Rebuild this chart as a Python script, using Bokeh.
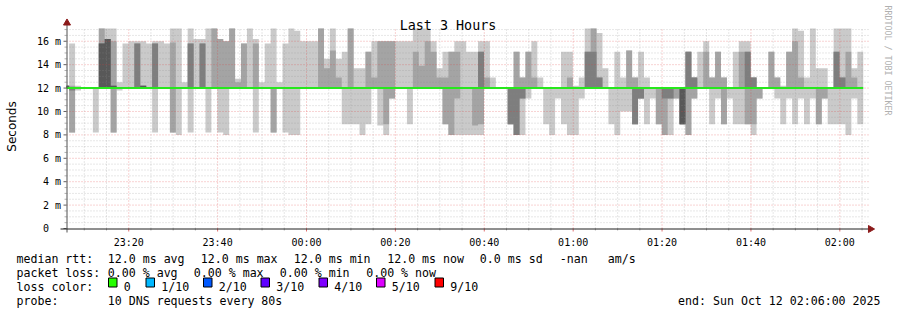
import math
import pandas as pd
from bokeh.plotting import figure
from bokeh.models import ColumnDataSource, Range1d
from bokeh.core.properties import value
from bokeh.embed import file_html
from bokeh.resources import INLINE

# ---------------- data (ms), one value per 80 s step, sorted ping ranks ----------------
first_step_time = "2025-10-11 23:05:16"
step_seconds = 80
view_start = "2025-10-11 23:06:00"
view_end = "2025-10-12 02:06:00"

ping_max = [12.2,
    15.8, 12.2, 12.0, 12.0, 12.0, 17.1, 17.1, 17.1, 12.5, 15.8,
    16.0, 16.0, 16.0, 15.8, 16.0, 16.0, 15.8, 17.1, 17.1, 12.5,
    17.1, 16.2, 16.2, 17.1, 17.1, 16.2, 16.0, 17.1, 12.8, 15.8,
    17.1, 16.2, 12.5, 15.8, 17.1, 12.5, 15.8, 17.1, 16.9, 16.0,
    16.0, 16.0, 17.1, 14.5, 17.1, 14.5, 15.1, 17.1, 13.7, 13.7,
    15.1, 16.0, 16.0, 16.0, 16.0, 16.0, 16.0, 16.0, 17.1, 17.1,
    17.1, 16.0, 13.7, 15.1, 15.1, 16.0, 16.0, 15.1, 15.1, 16.0,
    16.0, 12.9, 12.0, 12.0, 12.0, 15.1, 12.9, 15.1, 16.0, 12.9,
    12.0, 12.0, 12.0, 15.1, 15.1, 12.2, 12.9, 17.1, 17.1, 16.7,
    13.7, 12.0, 15.1, 12.9, 15.2, 12.9, 15.1, 12.9, 12.0, 12.0,
    12.0, 12.0, 12.0, 12.0, 15.1, 12.9, 15.1, 16.0, 12.9, 15.1,
    12.9, 12.0, 15.1, 16.0, 16.0, 12.9, 12.0, 12.0, 15.1, 12.9,
    12.2, 15.1, 17.1, 16.9, 12.9, 17.1, 13.7, 13.7, 12.0, 17.1,
    17.1, 17.1, 13.7, 15.1]

ping_9 = [12.2,
    12.2, 12.0, 12.0, 12.0, 12.0, 17.1, 16.2, 16.0, 12.0, 12.0,
    12.0, 15.8, 12.2, 12.0, 15.8, 12.0, 12.0, 15.9, 12.0, 12.0,
    15.8, 12.0, 15.8, 12.0, 17.1, 16.2, 16.0, 17.1, 12.5, 15.8,
    12.0, 15.8, 12.0, 12.0, 12.0, 12.0, 12.0, 12.0, 12.0, 12.0,
    12.0, 12.0, 17.1, 13.7, 15.2, 12.9, 12.0, 17.1, 12.0, 12.0,
    15.1, 12.9, 16.0, 16.0, 16.0, 12.0, 12.0, 12.0, 15.1, 13.9,
    16.0, 15.1, 12.9, 12.9, 15.1, 15.1, 12.0, 12.0, 12.0, 15.1,
    12.9, 12.0, 12.0, 12.0, 12.0, 15.1, 12.9, 15.1, 12.9, 12.0,
    12.0, 12.0, 12.0, 12.0, 12.9, 12.0, 12.0, 15.1, 17.1, 12.9,
    12.0, 12.0, 12.0, 12.0, 15.2, 12.9, 12.0, 12.0, 12.0, 12.0,
    12.0, 12.0, 12.0, 12.0, 15.1, 12.9, 12.0, 15.1, 12.9, 15.1,
    12.9, 12.0, 12.0, 15.1, 15.1, 12.9, 12.0, 12.0, 15.1, 12.9,
    12.0, 15.1, 16.0, 12.9, 12.0, 12.0, 12.0, 12.0, 12.0, 15.1,
    12.9, 15.1, 12.9, 12.0]

ping_8 = [12.2,
    12.0, 12.0, 12.0, 12.0, 12.0, 15.8, 16.2, 12.2, 12.0, 12.0,
    12.0, 15.8, 12.2, 12.0, 15.8, 12.0, 12.0, 12.0, 12.0, 12.0,
    15.8, 12.0, 15.8, 12.0, 12.0, 12.0, 12.0, 12.0, 12.0, 12.0,
    12.0, 12.0, 12.0, 12.0, 12.0, 12.0, 12.0, 12.0, 12.0, 12.0,
    12.0, 12.0, 12.0, 12.0, 12.0, 12.0, 12.0, 12.0, 12.0, 12.0,
    12.0, 12.0, 12.0, 12.0, 12.0, 12.0, 12.0, 12.0, 12.0, 12.0,
    12.0, 12.0, 12.0, 12.0, 12.0, 12.0, 12.0, 12.0, 12.0, 15.1,
    12.0, 12.0, 12.0, 12.0, 12.0, 12.0, 12.0, 12.0, 12.0, 12.0,
    12.0, 12.0, 12.0, 12.0, 12.0, 12.0, 12.0, 15.1, 15.1, 12.9,
    12.0, 12.0, 12.0, 12.0, 12.0, 12.0, 12.0, 12.0, 12.0, 12.0,
    12.0, 12.0, 12.0, 12.0, 15.1, 12.9, 12.0, 12.0, 12.0, 12.0,
    12.0, 12.0, 12.0, 12.0, 15.1, 12.9, 12.0, 12.0, 12.0, 12.0,
    12.0, 12.0, 12.0, 12.0, 12.0, 12.0, 12.0, 12.0, 12.0, 15.1,
    12.9, 12.0, 12.0, 12.0]

ping_7 = [12.2,
    12.0, 12.0, 12.0, 12.0, 12.0, 15.8, 16.2, 12.2, 12.0, 12.0,
    12.0, 12.0, 12.2, 12.0, 12.0, 12.0, 12.0, 12.0, 12.0, 12.0,
    12.0, 12.0, 12.0, 12.0, 12.0, 12.0, 12.0, 12.0, 12.0, 12.0,
    12.0, 12.0, 12.0, 12.0, 12.0, 12.0, 12.0, 12.0, 12.0, 12.0,
    12.0, 12.0, 12.0, 12.0, 12.0, 12.0, 12.0, 12.0, 12.0, 12.0,
    12.0, 12.0, 12.0, 12.0, 12.0, 12.0, 12.0, 12.0, 12.0, 12.0,
    12.0, 12.0, 12.0, 12.0, 12.0, 12.0, 12.0, 12.0, 12.0, 12.0,
    12.0, 12.0, 12.0, 12.0, 12.0, 12.0, 12.0, 12.0, 12.0, 12.0,
    12.0, 12.0, 12.0, 12.0, 12.0, 12.0, 12.0, 12.0, 12.0, 12.0,
    12.0, 12.0, 12.0, 12.0, 12.0, 12.0, 12.0, 12.0, 12.0, 12.0,
    12.0, 12.0, 12.0, 12.0, 12.0, 12.0, 12.0, 12.0, 12.0, 12.0,
    12.0, 12.0, 12.0, 12.0, 12.0, 12.0, 12.0, 12.0, 12.0, 12.0,
    12.0, 12.0, 12.0, 12.0, 12.0, 12.0, 12.0, 12.0, 12.0, 12.0,
    12.0, 12.0, 12.0, 12.0]

ping_4 = [12.0,
    12.0, 12.0, 12.0, 12.0, 12.0, 12.0, 12.0, 12.0, 12.0, 12.0,
    12.0, 12.0, 12.0, 12.0, 12.0, 12.0, 12.0, 12.0, 12.0, 12.0,
    12.0, 12.0, 12.0, 12.0, 12.0, 12.0, 12.0, 12.0, 12.0, 12.0,
    12.0, 12.0, 12.0, 12.0, 12.0, 12.0, 12.0, 12.0, 12.0, 12.0,
    12.0, 12.0, 12.0, 12.0, 12.0, 12.0, 12.0, 12.0, 12.0, 12.0,
    12.0, 12.0, 12.0, 12.0, 12.0, 12.0, 12.0, 12.0, 12.0, 12.0,
    12.0, 12.0, 12.0, 12.0, 12.0, 12.0, 12.0, 12.0, 12.0, 12.0,
    12.0, 12.0, 12.0, 12.0, 12.0, 12.0, 12.0, 12.0, 12.0, 12.0,
    12.0, 12.0, 12.0, 12.0, 12.0, 12.0, 12.0, 12.0, 12.0, 12.0,
    12.0, 12.0, 12.0, 12.0, 12.0, 12.0, 12.0, 12.0, 12.0, 12.0,
    12.0, 12.0, 12.0, 8.9, 12.0, 12.0, 12.0, 12.0, 12.0, 12.0,
    12.0, 12.0, 12.0, 12.0, 12.0, 12.0, 12.0, 12.0, 12.0, 12.0,
    12.0, 12.0, 12.0, 12.0, 12.0, 12.0, 12.0, 12.0, 12.0, 12.0,
    12.0, 12.0, 12.0, 12.0]

ping_3 = [12.0,
    11.8, 12.0, 12.0, 12.0, 12.0, 12.0, 12.0, 12.0, 12.0, 12.0,
    12.0, 12.0, 12.0, 12.0, 12.0, 12.0, 12.0, 12.0, 12.0, 12.0,
    12.0, 12.0, 12.0, 12.0, 12.0, 12.0, 12.0, 12.0, 12.0, 12.0,
    12.0, 12.0, 12.0, 12.0, 12.0, 12.0, 12.0, 12.0, 12.0, 12.0,
    12.0, 12.0, 12.0, 12.0, 12.0, 12.0, 12.0, 12.0, 12.0, 12.0,
    12.0, 12.0, 12.0, 12.0, 12.0, 12.0, 12.0, 12.0, 12.0, 12.0,
    12.0, 12.0, 12.0, 12.0, 12.0, 12.0, 12.0, 12.0, 12.0, 12.0,
    12.0, 12.0, 12.0, 12.0, 8.9, 8.0, 11.1, 12.0, 12.0, 12.0,
    12.0, 12.0, 12.0, 12.0, 12.0, 12.0, 12.0, 12.0, 12.0, 12.0,
    12.0, 12.0, 12.0, 12.0, 12.0, 8.9, 11.1, 12.0, 12.0, 12.0,
    11.1, 11.1, 12.0, 8.9, 12.0, 12.0, 12.0, 12.0, 12.0, 12.0,
    12.0, 12.0, 12.0, 12.0, 12.0, 12.0, 12.0, 12.0, 12.0, 12.0,
    12.0, 12.0, 12.0, 12.0, 12.0, 12.0, 12.0, 12.0, 12.0, 12.0,
    12.0, 12.0, 12.0, 12.0]

ping_2 = [12.0,
    8.2, 12.0, 12.0, 12.0, 12.0, 12.0, 12.0, 8.2, 12.0, 12.0,
    12.0, 12.0, 12.0, 12.0, 12.0, 12.0, 12.0, 8.2, 12.0, 12.0,
    12.0, 12.0, 12.0, 12.0, 12.0, 12.0, 12.0, 12.0, 12.0, 12.0,
    12.0, 12.0, 12.0, 12.0, 8.2, 12.0, 12.0, 12.0, 12.0, 12.0,
    12.0, 12.0, 12.0, 12.0, 12.0, 12.0, 12.0, 12.0, 12.0, 12.0,
    12.0, 12.0, 12.0, 8.9, 11.1, 12.0, 12.0, 12.0, 12.0, 12.0,
    12.0, 12.0, 12.0, 8.9, 8.0, 11.1, 12.0, 12.0, 8.8, 8.9,
    12.0, 12.0, 12.0, 12.0, 8.9, 8.0, 11.1, 12.0, 12.0, 12.0,
    12.0, 12.0, 12.0, 12.0, 12.0, 12.0, 12.0, 12.0, 12.0, 12.0,
    12.0, 12.0, 12.0, 12.0, 12.0, 8.9, 11.1, 12.0, 12.0, 8.9,
    8.0, 11.1, 11.1, 8.9, 8.0, 11.1, 12.0, 12.0, 12.0, 12.0,
    8.9, 12.0, 12.0, 12.0, 8.9, 8.9, 11.1, 12.0, 12.0, 12.0,
    12.0, 12.0, 12.0, 12.0, 12.0, 12.0, 8.9, 11.1, 12.0, 12.0,
    12.0, 12.0, 12.0, 12.0]

ping_min = [12.0,
    8.2, 11.8, 12.0, 12.0, 8.2, 12.0, 12.0, 8.2, 11.8, 12.0,
    12.0, 12.0, 12.0, 12.0, 8.2, 12.0, 12.0, 8.2, 8.0, 12.0,
    8.2, 12.0, 12.0, 8.2, 12.0, 8.2, 8.0, 12.0, 12.0, 12.0,
    12.0, 8.2, 12.0, 12.0, 8.2, 12.0, 8.2, 8.0, 8.0, 12.0,
    12.0, 12.0, 12.0, 12.0, 12.0, 12.0, 8.9, 8.9, 8.9, 8.0,
    8.9, 12.0, 8.8, 8.0, 11.1, 12.0, 12.0, 8.9, 12.0, 12.0,
    12.0, 12.0, 12.0, 8.9, 8.0, 8.0, 8.0, 8.0, 8.0, 8.0,
    12.0, 12.0, 12.0, 12.0, 8.9, 8.0, 8.0, 11.1, 12.0, 12.0,
    8.9, 8.0, 11.1, 8.9, 8.0, 8.0, 11.1, 12.0, 12.0, 12.0,
    12.0, 8.9, 8.0, 10.0, 10.0, 8.9, 11.1, 8.9, 11.1, 8.9,
    8.0, 8.0, 11.1, 8.9, 8.0, 11.1, 12.0, 12.0, 8.9, 11.1,
    8.9, 11.1, 8.9, 8.9, 8.9, 8.0, 11.1, 12.0, 12.0, 11.1,
    8.9, 11.1, 8.9, 11.1, 8.9, 11.1, 8.9, 11.1, 8.9, 8.9,
    8.9, 8.0, 11.1, 8.9]

median_rtt = [12.0] * len(ping_max)

y_major = [0, 2, 4, 6, 8, 10, 12, 14, 16]
y_labels = ["0\u00a0\u00a0", "2 m", "4 m", "6 m", "8 m", "10 m", "12 m", "14 m", "16 m"]
x_label_times = ["2025-10-11 23:20", "2025-10-11 23:40", "2025-10-12 00:00",
                 "2025-10-12 00:20", "2025-10-12 00:40", "2025-10-12 01:00",
                 "2025-10-12 01:20", "2025-10-12 01:40", "2025-10-12 02:00"]
x_labels = ["23:20", "23:40", "00:00", "00:20", "00:40", "01:00", "01:20", "01:40", "02:00"]
loss_labels = ["0", "1/10", "2/10", "3/10", "4/10", "5/10", "9/10"]
loss_colors = ["#26ff00", "#00b8ff", "#0059ff", "#5e00ff", "#7e00ff", "#dd00ff", "#ff0000"]
y_top = 17.09

# legend text rows (x position in px, text)
row1 = [(16, "median rtt:"), (107.3, "12.0 ms avg"), (200.3, "12.0 ms max"),
        (293.3, "12.0 ms min"), (386.7, "12.0 ms now"), (479.3, "0.0 ms sd"),
        (559.3, "-nan"), (607.3, "am/s")]
row2 = [(16, "packet loss:"), (107.3, "0.00 % avg"), (193.3, "0.00 % max"),
        (279.3, "0.00 % min"), (365.7, "0.00 % now")]
sq_left = [108.0, 145.5, 203.0, 260.5, 318.5, 376.0, 434.5]

# ---------------- helpers ----------------
EPOCH = pd.Timestamp("1970-01-01")


def ms(t):
    return (pd.Timestamp(t) - EPOCH) / pd.Timedelta(milliseconds=1)


x0, x1 = ms(view_start), ms(view_end)
FL, FR, FT, FB = 66.0, 866.0, 28.0, 228.0   # rrd plot area in page pixels
W, H = 897, 310


def X(px):
    return x0 + (px - FL) * (x1 - x0) / (FR - FL)


def Y(py):
    return (FB - py) * y_top / (FB - FT)


n = len(ping_max)
t0 = pd.Timestamp(first_step_time)
t_edges = [max(x0, ms(t0 + pd.Timedelta(seconds=step_seconds * i))) for i in range(n + 1)]


def ext(a):
    return list(a) + [a[-1]]


src = ColumnDataSource(dict(
    t=t_edges, p1=ext(ping_min), p2=ext(ping_2), p3=ext(ping_3), p4=ext(ping_4),
    p7=ext(ping_7), p8=ext(ping_8), p9=ext(ping_9), p10=ext(ping_max),
    med=ext(median_rtt)))

mono = "DejaVu Sans Mono"

p = figure(width=W, height=H, title=None, x_range=Range1d(X(0), X(W)),
           y_range=Range1d(Y(H), Y(0)), output_backend="svg", toolbar_location=None,
           x_axis_location=None, y_axis_location=None,
           min_border_left=0, min_border_right=0, min_border_top=0, min_border_bottom=0)
p.outline_line_color = None
p.background_fill_color = "white"
p.border_fill_color = "white"
p.grid.visible = False

# smoke bands
bands = [("p1", "p10", "#cacaca"), ("p2", "p9", "#a4a4a4"),
         ("p3", "p8", "#7e7e7e"), ("p4", "p7", "#585858")]
for lo, hi, col in bands:
    p.varea_step(x="t", y1=lo, y2=hi, step_mode="after", fill_color=col, source=src)

# ticks
y_minor = [v / 2 for v in range(1, 35) if v % 4 != 0]
x_major = [ms(t) for t in x_label_times]
x_minor = [ms(pd.Timestamp("2025-10-11 23:10") + pd.Timedelta(minutes=5 * i)) for i in range(36)]
x_minor = [v for v in x_minor if v not in x_major]

# grid (dotted, translucent, over the smoke like rrdtool)
minor_grid = dict(line_color="#8c8c8c", line_alpha=0.42, line_dash="1 2", line_width=1)
major_grid = dict(line_color="#e03c3c", line_alpha=0.45, line_dash="1 2", line_width=1)
gx_end = X(869)
p.segment(x0=[x0] * len(y_minor), x1=[gx_end] * len(y_minor), y0=y_minor, y1=y_minor,
          **minor_grid)
p.segment(x0=[x0] * (len(y_major) - 1), x1=[gx_end] * (len(y_major) - 1),
          y0=y_major[1:], y1=y_major[1:], **major_grid)
p.segment(x0=x_minor, x1=x_minor, y0=[0] * len(x_minor), y1=[y_top] * len(x_minor),
          **minor_grid)
p.segment(x0=x_major, x1=x_major, y0=[0] * len(x_major), y1=[y_top] * len(x_major),
          **major_grid)

# median line
p.step(x="t", y="med", mode="after", line_color="#26e81c", line_width=2, source=src)

# tick marks
p.segment(x0=[X(63)] * len(y_major), x1=[X(66)] * len(y_major), y0=y_major, y1=y_major,
          line_color="#606060", line_width=1)
p.segment(x0=[X(64)] * len(y_minor), x1=[X(66)] * len(y_minor), y0=y_minor, y1=y_minor,
          line_color="#b0b0b0", line_width=1)
p.segment(x0=x_major, x1=x_major, y0=[Y(228)] * len(x_major), y1=[Y(231)] * len(x_major),
          line_color="#e07070", line_width=1)
p.segment(x0=x_minor, x1=x_minor, y0=[Y(228)] * len(x_minor), y1=[Y(230)] * len(x_minor),
          line_color="#b0b0b0", line_width=1)

# axis lines with arrow heads
p.segment(x0=[X(66.5)], y0=[Y(232)], x1=[X(66.5)], y1=[Y(22)], line_color="#505050", line_width=1)
p.segment(x0=[X(60)], y0=[Y(228.5)], x1=[X(870)], y1=[Y(228.5)], line_color="#202020", line_width=1)
p.scatter(x=[X(66.5)], y=[Y(22.5)], marker="triangle", size=7, angle=0,
          fill_color="#8b1a1a", line_color="#8b1a1a")
p.scatter(x=[X(870)], y=[Y(228.5)], marker="triangle", size=7, angle=-math.pi / 2,
          fill_color="#8b1a1a", line_color="#8b1a1a")

# tick labels
p.text(x=[X(60.5)] * len(y_major), y=y_major, text=y_labels, text_font=value(mono),
       text_font_size="10px", text_align="right", text_baseline="middle", text_color="black")
p.text(x=x_major, y=[Y(241.5)] * len(x_major), text=x_labels, text_font=value(mono),
       text_font_size="10px", text_align="center", text_baseline="alphabetic",
       text_color="black")

# title, axis title and vertical credit
p.text(x=[X(447.5)], y=[Y(24.5)], text=["Last 3 Hours"], text_font=value(mono),
       text_font_size="13.4px", text_align="center", text_baseline="alphabetic",
       text_color="black")
p.text(x=[X(11)], y=[Y(126)], text=["Seconds"], text_font=value("DejaVu Sans"),
       text_font_size="12px", text_align="center", text_baseline="middle",
       text_color="black", angle=math.pi / 2)
p.text(x=[X(887)], y=[Y(5)], text=["RRDTOOL / TOBI OETIKER"], text_font=value(mono),
       text_font_size="8.3px", text_align="left", text_baseline="middle",
       text_color="#b0b0b0", angle=-math.pi / 2)

# ---------------- legend area ----------------
lx, ly, lt = [], [], []
for px, s in row1:
    lx.append(X(px)); ly.append(Y(258)); lt.append(s)
for px, s in row2:
    lx.append(X(px)); ly.append(Y(272)); lt.append(s)
lx.append(X(16)); ly.append(Y(286)); lt.append("loss color:")
for sx, lab in zip(sq_left, loss_labels):
    lx.append(X(sx + 15.3)); ly.append(Y(286)); lt.append(lab)
lx += [X(16), X(107.3)]
ly += [Y(300), Y(300)]
lt += ["probe:", "10 DNS requests every 80s"]
p.text(x=lx, y=ly, text=lt, text_font=value(mono), text_font_size="11.6px",
       text_align="left", text_baseline="alphabetic", text_color="black")
p.text(x=[X(880)], y=[Y(300)], text=["end: Sun Oct 12 02:06:00 2025"], text_font=value(mono),
       text_font_size="11.6px", text_align="right", text_baseline="alphabetic",
       text_color="black")
p.quad(left=[X(s) for s in sq_left], right=[X(s + 8.5) for s in sq_left],
       top=[Y(277.5)] * len(sq_left), bottom=[Y(286.5)] * len(sq_left),
       fill_color=loss_colors, line_color="black", line_width=1)

open("out.html", "w").write(file_html(p, INLINE))
